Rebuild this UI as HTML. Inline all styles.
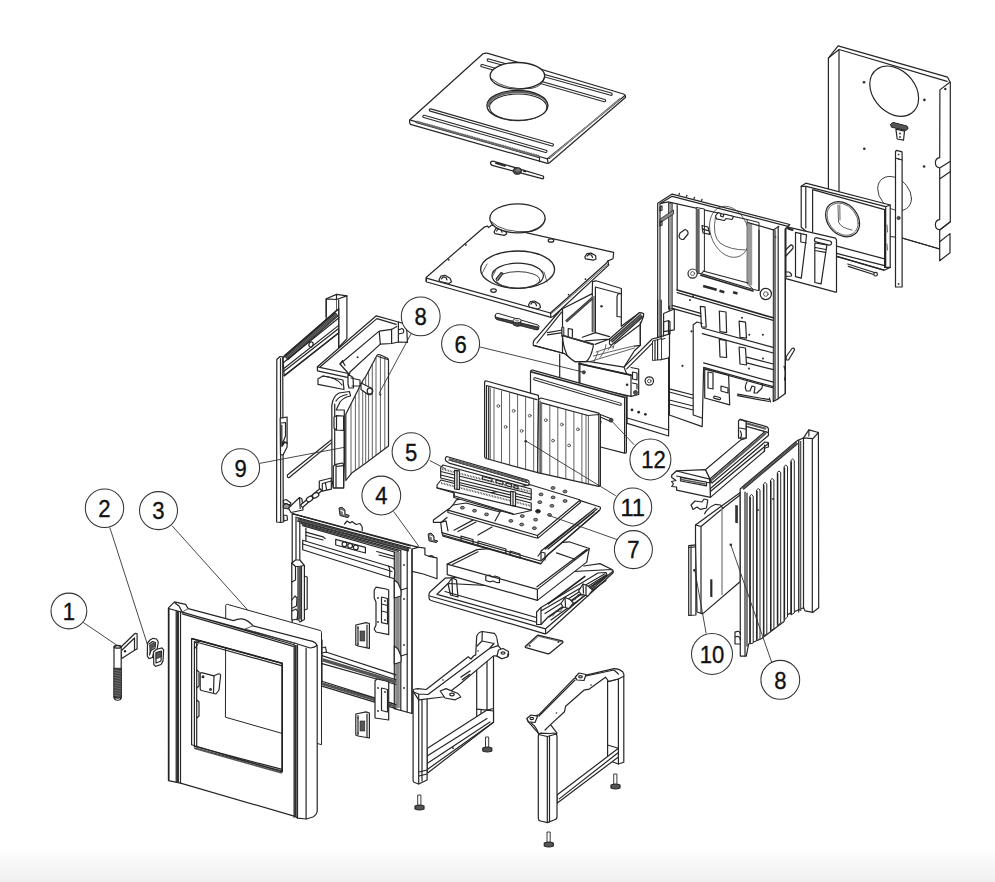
<!DOCTYPE html>
<html><head><meta charset="utf-8"><title>Stove exploded view</title>
<style>
html,body{margin:0;padding:0;background:#fff;}
body{width:995px;height:882px;overflow:hidden;font-family:"Liberation Sans",sans-serif;}
svg{display:block;}
.s{fill:none;stroke:#262626;stroke-width:1.2;stroke-linejoin:round;stroke-linecap:round;}
.f{fill:#fff;stroke:#262626;stroke-width:1.2;stroke-linejoin:round;stroke-linecap:round;}
.t{fill:none;stroke:#3a3a3a;stroke-width:0.8;stroke-linejoin:round;stroke-linecap:round;}
.k{fill:#2a2a2a;stroke:none;}
.g{fill:#8a8a8a;stroke:#262626;stroke-width:1;}
.d{fill:#555;stroke:#262626;stroke-width:0.8;}
.ld{fill:none;stroke:#333;stroke-width:0.9;}
.co{fill:#fff;stroke:#333;stroke-width:1.05;}
.n{font-family:"Liberation Sans",sans-serif;font-size:24.5px;fill:#111;stroke:#111;stroke-width:0.35;text-anchor:middle;}
</style></head>
<body>
<svg width="995" height="882" viewBox="0 0 995 882">
<defs>
<linearGradient id="bg" x1="0" y1="0" x2="0" y2="1">
<stop offset="0" stop-color="#ffffff"/><stop offset="1" stop-color="#f0f0f0"/>
</linearGradient>
</defs>
<rect x="0" y="0" width="995" height="882" fill="#fff"/>
<rect x="0" y="846" width="995" height="36" fill="url(#bg)"/>

<!-- BACKPANEL -->
<g id="backpanel">
<polygon class="f" points="828.4,58.1 838.1,45.9 947.6,77.2 950.3,82.5 950.3,221.8 939.7,229.9 939.7,249 902,238 839,230 828.4,228"/>
<path class="s" d="M839,49.5 L947.1,81.3 M828.4,58.1 L839,49.5 L839,232 M939.9,89.9 L949.8,82.2 M939.9,89.9 L939.7,157.7 A5,5.2 0 0 0 939.7,168 L939.7,219.6 A5,5.2 0 0 0 939.7,229.9 L950.3,221.8 M939.7,168 L950,161.4 M939.7,179 L950,171.7 M902,238 L939.7,249"/>
<polygon class="f" points="939.7,241.7 950,233.6 950,252.7 939.7,260.8"/>
<circle class="s" r="1" vector-effect="non-scaling-stroke" transform="matrix(24.4 7.1 0 24.1 894.2 91.2)"/>
<circle class="s" r="1" vector-effect="non-scaling-stroke" style="stroke-width:0.9" transform="matrix(16.9 4.9 0 16.4 894.6 193.6)"/>
<circle class="k" cx="864" cy="82.2" r="1.3"/><circle class="k" cx="924.4" cy="99.9" r="1.3"/><circle class="k" cx="945.3" cy="89" r="1.2"/>
<circle class="k" cx="864.3" cy="148.7" r="1.3"/><circle class="k" cx="924.1" cy="166.5" r="1.3"/>
<path class="g" d="M890.4,124.5 L893,122.4 L907,126 L908.2,128.5 L906,130.5 L891.5,127.2 Z" style="fill:#555"/>
<path class="f" d="M895.9,129.2 L904.5,131.2 L903.5,140.2 L897.2,139 Z"/>
<circle class="k" cx="900" cy="133.5" r="0.9"/><circle class="k" cx="900" cy="137" r="0.9"/>
<!-- strap -->
<path class="f" d="M895.5,151.5 L896.5,150.3 L902.1,151.8 L902.1,287 L895.5,287 Z"/>
<path class="s" d="M895.5,158 L902.1,160"/>
<circle class="k" cx="898.6" cy="154.6" r="0.9"/><circle class="k" cx="898.6" cy="158.9" r="0.9"/>
<circle class="d" cx="898.6" cy="218" r="1.6"/>
<circle class="k" cx="898.6" cy="284" r="0.9"/>
</g>
<!-- ADAPTER -->
<g id="adapter">
<polygon class="f" points="801.2,186.3 805.8,183.2 890.2,205 890.2,267.4 884,270.2 835.8,256.1 801.2,227.2"/>
<path class="s" d="M806.3,186.3 L885.7,206.7 L890.2,205 M812.6,189.7 L884.6,209.6 M801.2,186.3 L806.3,186.3 M805.8,186.3 L805.8,228 M812.6,189.7 L812.6,232 M884.6,209.6 L884.6,267.4 M885.7,206.7 L885.7,267 M835.8,245.9 L884.6,258.9 M835.8,253.2 L884.6,265.7 M835.8,256.1 L884,270.2 M884.6,267.4 L890.2,267.4"/>
<path class="t" d="M887,225 L887.5,232 M887,244 L887.5,250"/>
<circle class="s" r="1" vector-effect="non-scaling-stroke" transform="matrix(17 4.4 0 17 842.6 219.2)"/>
<circle class="t" r="1" vector-effect="non-scaling-stroke" transform="matrix(15.6 4.0 0 15.6 842.6 219.2)"/>
<path class="t" d="M838,205 L838.5,222 Q841,228 852,230 M839.8,205 L840,220"/>
<path class="s" d="M847.7,264 L876.1,273 M848.3,266.4 L876,275.3"/>
<circle class="f" cx="875.6" cy="274.2" r="1.8"/>
</g>
<g id="slotbracket">
<polygon class="f" points="785.9,226.6 835.5,238.1 836.5,240 836.5,292.1 835.5,292.1 785.9,278.6"/>
<path class="s" d="M795.5,232.3 L806.6,234.8 L801.3,278.1 L795.5,276.7 Z M800.8,233.4 L800.8,242 L806.4,243 M814.8,243 L826.9,244.9 L821.1,283.9 L814.8,282.5 Z M815.3,247.5 L825.8,249.5 M815,250.5 L825.5,252.3"/>
<rect class="s" x="815" y="237.3" width="17.5" height="4.2" rx="2.1" transform="rotate(14 815 237.3)"/>
<path class="s" d="M786,249.5 L791,244.8 Q793.8,245.5 792.8,248.5 L786,256" />
<path class="s" d="M786,272 L789,272 Q792,273.5 791.5,276 L786,276.5"/>
<path class="s" d="M788,228.5 L792.5,230" style="stroke-width:2"/>
</g>
<!-- REARFRAME -->
<g id="rearframe">
<polygon class="f" points="657.7,203.2 672.2,194.1 789.8,224.5 785.3,229 785.3,393.5 778.5,398.6 773.4,401.4 773.4,388 703.6,368.5 702.2,426.6 669.3,415 669.3,360 657.7,360"/>
<circle class="t" r="1" vector-effect="non-scaling-stroke" transform="matrix(20 5.8 0 24.9 729.5 231.8)"/>
<path class="t" d="M715.4,217.2 Q712,236 720,243 Q730,250 745.4,249.9"/>
<path class="s" d="M672.2,196.3 L788,226.3 M660,203.5 L660,360 M668.1,201.8 L747.2,219.5 M677.2,205 L677.2,290 M660,203.6 L672.2,196.3 M660,203.6 L668.1,201.8"/>
<rect x="668.6" y="203" width="3.6" height="106" style="fill:#9a9a9a;stroke:#262626;stroke-width:0.8"/>
<!-- window left frame -->
<path style="fill:#fff;stroke:#262626;stroke-width:1" d="M696.3,207.5 L704.4,209 L704.4,271 L700.8,273.6 L696.3,273 Z"/>
<rect x="696.3" y="209" width="3.4" height="64" style="fill:#666;stroke:none"/>
<!-- window right frame -->
<path style="fill:#fff;stroke:#262626;stroke-width:1" d="M747.2,219.5 L759,222.5 L759,290.6 L753.3,289.5 L747.2,283.5 Z"/>
<rect x="747.4" y="223.5" width="4.8" height="62" style="fill:#9a9a9a;stroke:none"/>
<path class="s" d="M748,222.7 L773.5,229.9 L778.9,226.3 M759,230 L759,290.6"/>
<path class="s" d="M703,271 L748,283 M700.8,273.6 L753.3,289.5" />
<path class="s" d="M700.8,275.2 L753,291" style="stroke-width:1.6"/>
<!-- right column -->
<path class="s" d="M773.4,229.9 L773.4,401.4 M778.2,227 L778.2,398.6 M785.3,229 L785.3,393.5"/>
<rect x="773.6" y="230" width="2.5" height="170" style="fill:#777;stroke:none"/>
<!-- bosses -->
<circle class="f" cx="692.6" cy="273.6" r="4.6"/><circle class="t" cx="692.6" cy="273.6" r="2"/>
<circle class="f" cx="765.8" cy="294" r="5.6"/><circle class="t" cx="765.8" cy="294" r="2.3"/>
<g transform="translate(703.5,284.8) rotate(15)"><rect x="0" y="0" width="14" height="2.6" class="k"/><rect x="17" y="0.4" width="5" height="2.6" class="k"/></g>
<rect x="733.4" y="291" width="4.6" height="2.6" class="k" transform="rotate(15 733.4 291)"/>
<!-- beams -->
<path class="s" d="M677.2,290 L773.1,317.8" style="stroke-width:1.7"/>
<path class="s" d="M677.2,292.6 L773.1,320.4"/>
<path class="s" d="M672.2,305.4 L700.8,313.4 M672.2,308.4 L700.8,316.4"/>
<path class="s" d="M700.3,306.3 L705,306.8 L706.2,327.1 L701.5,327 Z M719.3,311 L726,312 L726.6,332.6 L720,331.7 Z M739.1,321.2 L745.5,322.2 L746.5,338.2 L740,337.3 Z M719.3,339.4 L726,340.5 L726.6,357.5 L720,356.8 Z M739.1,347 L745.5,348 L746.5,365 L740,364 Z"/>
<path class="s" d="M702.3,328 L773.1,347.3 M702.3,333.7 L773.1,353 M746.7,357.2 L773.4,364 M746.7,362.9 L773.4,369.7 M703.6,362.9 L773.4,382.2 M703.6,367.4 L773.4,386.7"/>
<path class="f" d="M704.7,369.1 L728.6,375.4 L729.7,404.8 L704.7,398 Z"/>
<path class="s" d="M708,372 L713,373 L713,389 L708,388 Z M721,386 L728,388 L728,393 L721,391 Z"/>
<rect x="714" y="396" width="7" height="2.2" rx="1.1" class="s" transform="rotate(15 714 396)"/>
<path class="s" d="M747,382 Q744,387 746.5,391 L750,391 L752,386 L755,387 L754,393 L757,393 L762,388 L762.6,384"/>
<path class="s" d="M737.6,394.1 L769.4,399.7 M737.6,395.6 L769,401.5 M769.4,398 L770.5,402"/>
<path class="f" d="M786.2,356.5 L792,348.5 Q794.5,347.5 794.5,350 L788.5,360 L786.2,360 Z"/>
<path class="s" d="M784,366.3 Q786.8,373 784.5,380"/>
<path class="s" d="M669.3,306 L669.3,415 M693.2,324.7 L693.2,415 M693.2,324.7 L697,322 L702.2,323.5 M669.3,388.8 L693.2,395 M669.3,392 L693.2,398.5 M669.3,400 L693.2,406 M669.3,404 L693.2,410 M693.2,415 L702.2,418"/>
<path class="f" d="M663.6,313.5 L674.3,309 L674.3,329.8 L663.6,331.7 Z"/>
<circle class="k" cx="682.5" cy="365.8" r="1.1"/><circle class="k" cx="691.5" cy="331.3" r="1.1"/>
<!-- top-left bracket & bits -->
<path style="fill:#888;stroke:#262626;stroke-width:0.8" d="M660,219 L673.6,210 L673.6,214 L660,223 Z"/>
<path class="s" d="M660,207 L662,206 L662,210 L660,211 Z M660,222 L662,221 L662,225 L660,226 Z"/>
<path class="f" d="M680,233 L685,229.5 Q688.5,230.5 688,234 L683.5,239.5 Q679.5,239.8 679,236 Z"/>
<path class="s" d="M702,225.5 L708,227 L709.9,234.4 L703,233 Z M702,229 L709,230.8"/>
<path class="f" d="M715.4,216 L718,212.7 L721,213.5 L720.5,216 L723,217 L724,214 L733.6,216.5 L732,219.5 L726,218.5 L724.5,220.5 L716.5,218.8 Z"/>
<circle class="k" cx="693" cy="296.3" r="1"/><circle class="k" cx="690" cy="300" r="1"/>
<circle class="k" cx="742" cy="317.8" r="1"/><circle class="k" cx="749.3" cy="334.8" r="1"/><circle class="k" cx="762.9" cy="334.8" r="1"/>
<circle class="k" cx="763" cy="358.5" r="1"/><circle class="k" cx="749" cy="368.5" r="1"/>
<circle class="k" cx="703" cy="229" r="0.8"/><circle class="k" cx="775.5" cy="237" r="0.8"/>
<path class="s" d="M679,194.6 L679.5,193.4 M686.5,196.5 L687,195.3 M694,198.5 L694.5,197.3 M701.5,200.5 L702,199.3" />
</g>
<!-- BAFFLE -->
<g id="baffle">
<!-- right side plate -->
<path class="f" d="M627.1,375 L624,367.1 L652.1,339 L657.6,337.6 L664.8,335.4 L669.5,334 L669.5,356 L668.6,358 L668.6,436 L627.1,423.4 Z"/>
<path class="s" d="M626.7,368.9 L653.9,341.7 L664.8,338.5 M659.9,359.8 L668.6,358 M627.1,418 L668.6,430"/>
<path style="fill:#fff;stroke:#262626;stroke-width:0.9" d="M652.5,341 L661.5,338.6 L661.5,359.5 L652.5,360.5 Z"/>
<path class="s" d="M655,340.5 L655,360 M657.6,339.8 L657.6,359.8"/>
<path class="s" d="M657.6,300 L657.6,337.6 M661.2,300 L661.2,338.6"/>
<path class="s" d="M663.5,322 L663.5,336 M668.5,320.5 L668.5,334 M663.5,322 L668.5,320.5 L670,322 L670,334"/>
<circle class="f" cx="649.3" cy="381" r="4.2"/><circle class="t" cx="649.3" cy="381" r="1.8"/>
<circle class="k" cx="632" cy="409.9" r="1.4"/><circle class="k" cx="638.7" cy="412.2" r="1.4"/><circle class="k" cx="645.4" cy="414.3" r="1.4"/>
<!-- tray body silhouette -->
<path class="f" d="M533.4,345.3 Q532.3,341 536.2,338.1 L561,309.5 L592.3,293.6 L592.5,281.7 L596,280.8 L621.4,288.5 L621.3,326.3 L639.4,312.7 L643.5,313.5 L643.5,316.3 L642.1,320 L640.3,324.5 L640.3,345.3 L634.4,350.8 L624,367.1 L589.5,361.7 L575.2,361.7 L564.3,353.5 Z"/>
<!-- back box -->
<path class="s" d="M595.4,287 L621.4,294 M595.4,287 L595.4,332.6 M592.3,293.6 L592.3,331.7 M617,316.5 L617,297 Q617.5,293 620.5,293.5 M621.3,317 L617,316.5"/>
<rect x="592.6" y="296" width="2.4" height="36" style="fill:#888;stroke:none"/>
<circle class="k" cx="601.5" cy="306.3" r="1.2"/>
<path class="s" d="M582.4,337.2 L595.4,332.6 L609.5,336.7"/>
<!-- left rim -->
<path class="s" d="M537,343 L561.6,312.2 M533.4,345.3 L564.3,353.5 M562.5,309 L562.5,353.5"/>
<path class="s" d="M547.5,332.6 L562.5,330 M547.5,334.8 L562.5,332.6 M568.2,336 L568.2,328.5 L572.4,329.3 L572.4,336.5"/>
<path d="M566,321.5 L592.5,298" style="stroke:#333;stroke-width:2.6;fill:none"/>
<path d="M566,321.5 L592.5,298" style="stroke:#999;stroke-width:1;fill:none;stroke-dasharray:0.7 0.7"/>
<path style="fill:#999;stroke:#262626;stroke-width:0.8" d="M561.5,327.5 L563.8,327 L564,336 L561.7,336.5 Z"/>
<!-- right wall rail -->
<path class="f" d="M609.5,339 L639.4,312.7 L643.5,313.5 L643.5,316.3 L611.3,345.3 L609.5,344 Z"/>
<path d="M611,341.5 L641.5,315" style="stroke:#333;stroke-width:3.4;fill:none"/>
<path d="M611,341.5 L641.5,315" style="stroke:#999;stroke-width:1.4;fill:none;stroke-dasharray:0.7 0.7"/>
<path class="s" d="M615,343.5 L640.3,324.5 M640.3,322 L640.3,345.3 M634.4,346.2 L640.3,345.3"/>
<path class="t" d="M589.5,361.7 L634.4,348 M593.3,356 L621,349 L634,346 M596,352 L613,346.5 M608,350 L611.3,345.3 M613,348.5 L614.5,343.5 M600,357.5 Q606,350 606,344.5 M594,362 L598,352"/>
<!-- box floor to rail -->
<path class="s" d="M585,340.8 L609.5,339 M595,344.4 L609.5,339"/>
<!-- half disc -->
<path class="f" d="M562.5,335.4 L593.3,344.4 L593.3,346.2 Q591,358 586,361.7 L575.2,361.7 Q566.5,356.5 566.1,352.6 Q563,346 562.5,335.4 Z"/>
<path d="M562.8,335.5 L593.3,344.4" style="stroke:#333;stroke-width:1.8;fill:none"/>
<!-- front plate -->
<path class="f" d="M579,363.6 L631,375.2 L631,396.4 L579,384.8 Z"/>
<path class="s" d="M579,363.6 L631,375.2" style="stroke-width:1.8"/>
<circle class="d" cx="583.8" cy="372.3" r="1.6"/><circle class="k" cx="627.1" cy="384.8" r="1.3"/>
<path class="s" d="M631,367.5 L638.7,369 L638.7,394.5 L631,396.4 M632.5,372 L637,373 L637,380 L632.5,379 Z M632.5,383 L637,384 L637,389"/>
<circle class="d" cx="635.5" cy="392.5" r="2"/>
<path class="s" d="M559.7,354 L559.7,379 M579.9,362 L579.9,383"/>
</g>
<!-- TOPPLATE -->
<g id="topplate">
<path class="f" d="M409.6,122.8 L409.6,120 L483,53.8 Q485.5,52.6 488,53.3 L623.5,94 Q626,95 625.4,97.5 L549.5,162.8 Q548.3,163.6 546.5,163.2 L410.5,124.4 Z"/>
<path class="s" d="M410.5,120.2 L539.5,156.5 L547.5,158.8 L625,95.5"/>
<path class="s" d="M416,122.5 L539.5,157.6 M539.5,156.5 L539.5,161 M547.5,158.8 L548,163 M619.8,98.8 L549.5,158.4"/>
<path d="M417,121.8 L539.5,156.8" style="stroke:#777;stroke-width:1.6;fill:none"/>
<path d="M620.5,98.5 L549.5,158" style="stroke:#999;stroke-width:1.2;fill:none"/>
<g style="fill:none;stroke-linecap:round">
<path d="M488.4,60.1 L611,94.2 M482,65.7 L604.5,100.6 M430.5,110 L552.3,144.9 M424,116.4 L545.8,151.3" style="stroke:#2a2a2a;stroke-width:3.4"/>
<path d="M488.4,60.1 L611,94.2 M482,65.7 L604.5,100.6 M430.5,110 L552.3,144.9 M424,116.4 L545.8,151.3" style="stroke:#fff;stroke-width:1.2"/>
</g>
<path d="M416.5,121.5 L539,156" style="stroke:#666;stroke-width:2.2;fill:none;stroke-dasharray:1 0.8"/>
<!-- hole -->
<ellipse cx="517.4" cy="105.5" rx="30.5" ry="15" style="fill:#fff;stroke:#262626;stroke-width:1.3"/>
<path d="M487,105.5 A30.5,15 0 0 1 547.9,105.5 A28.6,13.2 0 0 0 489,107 Z" style="fill:#777;stroke:#333;stroke-width:0.6"/>
<ellipse cx="518.2" cy="107.2" rx="28.6" ry="13.2" style="fill:#fff;stroke:#262626;stroke-width:1.1"/>
<!-- cover disc -->
<ellipse cx="517.4" cy="75.8" rx="27.3" ry="13.3" style="fill:#fff;stroke:#262626;stroke-width:1.3"/>
<path d="M491,78.5 Q505,90.5 531,88.5 Q543,86.5 544.5,77" style="fill:none;stroke:#262626;stroke-width:0.8"/>
</g>
<g id="tool1">
<path class="f" d="M490.8,162 Q492,160.8 494,161.3 L543,176 Q544.3,177.3 543,178.9 L493,165.7 Q490,165 490.8,162 Z" style="stroke-width:1.3"/>
<path class="s" d="M496,163.2 L505,165.8" style="stroke-width:1.8"/>
<ellipse cx="517.3" cy="171" rx="4.2" ry="3.4" style="fill:#444;stroke:#222;stroke-width:0.8"/>
<ellipse cx="517.8" cy="170.2" rx="2.4" ry="1.8" style="fill:#777;stroke:none"/>
<path class="s" d="M523.5,171 L525.5,171.7" style="stroke-width:1.4"/>
</g>
<!-- MIDPLATE -->
<g id="midplate">
<path class="f" d="M426.1,281.5 L426.1,277.5 L484.1,227.2 L487.5,226.2 L488.5,227.5 L491.9,225 L613.7,252.4 L613,258.8 L608,260.9 L608.7,265.1 L553.2,316.5 L551,317.3 L426.8,282 Z"/>
<path class="s" d="M426.4,278.2 L550.4,313 L606.6,263 L608,260.9 M550.4,313 L551,317.3 M426.4,281.5 L426.4,278.2"/>
<path class="t" d="M550.4,314.6 L608.2,263.8"/>
<circle class="k" cx="465.9" cy="244.9" r="0.9"/><circle class="k" cx="448.7" cy="259.8" r="0.9"/>
<circle class="k" cx="585.5" cy="279.2" r="0.9"/><circle class="k" cx="568.6" cy="294.6" r="0.9"/>
<ellipse class="s" cx="493.5" cy="290.6" rx="2.8" ry="1.7"/><ellipse class="s" cx="551" cy="240.5" rx="2.8" ry="1.7"/>
<!-- lugs -->
<path class="f" d="M439,280 L441,276 L445,275.3 L450,278.2 L451.5,281.8 L449,283.5 L440,281.5 Z"/>
<path class="s" d="M441.5,278.8 L443,276.8 L446,277.5 L447,280"/>
<path class="f" d="M528.5,305 L530.5,301.5 L534.5,301 L539.5,304 L540.5,307.5 L538,309 L529.5,307 Z"/>
<path class="s" d="M531,304 L532.5,302.2 L535.5,303 L536.5,305.8"/>
<path class="f" d="M584.8,257 L587,253.5 L591,253.1 L595.5,255.5 L596.1,259 L593.5,260.2 L585.5,258.8 Z"/>
<path class="s" d="M587.2,256 L588.6,254.5 L591.5,255 L592.5,257.5"/>
<path class="f" d="M494,232 L496,228.2 L500,227.8 L505.5,230.5 L506.7,234 L504,235.4 L495,233.6 Z"/>
<path class="s" d="M496.5,231 L498,229 L501,229.6 L502,232.2"/>
<!-- hole -->
<ellipse cx="517.6" cy="269.6" rx="37" ry="18.6" style="fill:#fff;stroke:#262626;stroke-width:1.3"/>
<ellipse cx="517.7" cy="275.8" rx="25.7" ry="12.6" style="fill:#fff;stroke:#262626;stroke-width:1.2"/>
<ellipse cx="518" cy="279.8" rx="21.6" ry="8.2" style="fill:#fff;stroke:#262626;stroke-width:0.9"/>
<path class="t" d="M481.8,274 L487,264 M492.5,276.5 L496,270 M544,272 L547,282 M553.5,274 L546,282"/>
<path class="s" d="M496,279 L501,272.5 L503,273.5 L498,280.5" style="fill:#888"/>
<!-- cover -->
<ellipse cx="517.5" cy="218.3" rx="27.7" ry="14.5" style="fill:#fff;stroke:#262626;stroke-width:1.3"/>
<path d="M490.5,221 Q503,233.5 531,231.5 Q543.5,229 545,219" style="fill:none;stroke:#262626;stroke-width:0.8"/>
</g>
<g id="tool2">
<path d="M495.2,316.2 L538.8,327.2 L538.6,329.4 Q537.5,330.2 536,329.8 L496.5,319.5 Q494.8,318.5 495.2,316.2 Z" style="fill:#444;stroke:#222;stroke-width:0.9"/>
<path class="f" d="M495.2,316.2 Q494.8,313.2 497.8,313.3 L538,325 Q540,326 538.8,327.2 L497,317.5 Q495.4,317.2 495.2,316.2 Z" style="stroke-width:1"/>
<path d="M513.2,320.5 L513.4,325 Q517,327.6 521,325.6 L521,321" style="fill:#444;stroke:#222;stroke-width:0.8"/>
<ellipse cx="517.1" cy="320.6" rx="3.9" ry="2.2" style="fill:#fff;stroke:#222;stroke-width:0.9"/>
<ellipse cx="517.1" cy="320.6" rx="2.1" ry="1.1" style="fill:#999;stroke:none"/>
</g>
<!-- BACKBRICK -->
<g id="backplate12">
<path class="f" d="M530.5,371.5 Q530.6,370 532.5,370.2 L625,395.6 Q626.6,396.2 626.4,398 L626.4,452 Q626,453.5 624.5,453.2 L600.4,447 L530.5,430 Z"/>
<path class="s" d="M531.5,372 L624.8,397.5" style="stroke-width:1.8"/>
<path class="s" d="M624.6,398 L624.6,452.4"/>
<path d="M534.8,378.9 L620.2,404.2" style="stroke:#2a2a2a;stroke-width:3.2;stroke-linecap:round;fill:none"/>
<path d="M534.8,378.9 L620.2,404.2" style="stroke:#fff;stroke-width:1.2;stroke-linecap:round;fill:none"/>
<path class="s" d="M600.4,414.5 L611,418.8 M600.4,417 L610.5,421.5"/>
<ellipse cx="611.2" cy="420.2" rx="1.8" ry="2" class="d"/>
<path class="s" d="M600.4,420 Q601.6,422 600.4,424"/>
</g>
<g id="bricks">
<!-- left brick -->
<path class="f" d="M484.6,382 Q485,380.8 486.5,381 L538.5,395.4 L538.5,399.6 L537.7,472.7 L486,458.5 Q484.6,458 484.6,456.5 Z"/>
<path class="s" d="M486.5,385.5 L536.9,399.6 M486.5,385.5 L486.5,457.8 M488.7,387 L488.7,458.6"/>
<path class="t" d="M490.3,388 L490.3,459 M494,389 L494,460 M501.5,391 L501.5,462 M509.6,393 L509.6,464.5 M517.6,395 L517.6,466.5 M525.6,397.5 L525.6,469 M533.7,399.5 L533.7,471.5"/>
<!-- right brick -->
<path class="f" d="M538.5,399.6 L540.9,398 L598.8,413.2 L600.4,414.8 L600.4,485.5 L598.8,486.4 L537.7,472.7 Z"/>
<path class="s" d="M541.7,402.8 L588,415.5 L598.8,414.5 M598.8,414.5 L598.8,486.4 M540.1,401 L540.1,473 "/>
<path class="t" d="M541.7,402.8 L541.7,473.5 M549.8,405 L549.8,475.2 M557.8,407 L557.8,477 M565.8,409.5 L565.8,478.8 M573.9,411.5 L573.9,480.6 M581.9,413.5 L581.9,482.4 M586,414.8 L586,483.3 M588.4,415.4 L588.4,484"/>
<g class="t">
<circle cx="498.3" cy="406" r="1.4"/><circle cx="513.6" cy="410.8" r="1.4"/><circle cx="529.7" cy="415.7" r="1.4"/><circle cx="505.6" cy="426.9" r="1.4"/><circle cx="521.6" cy="430.9" r="1.4"/>
<circle cx="545.8" cy="420.2" r="1.4"/><circle cx="561.8" cy="424.5" r="1.4"/><circle cx="577.9" cy="429.3" r="1.4"/><circle cx="553" cy="440.6" r="1.4"/><circle cx="569.1" cy="445.4" r="1.4"/>
</g>
<circle class="k" cx="525.7" cy="441.2" r="1.3"/>
</g>
<!-- SIDEPANEL -->
<g id="sidepanel">
<!-- rear post -->
<path class="f" d="M326.2,298.8 L336.5,294.4 L346.9,295.9 L346.9,338.7 L338.7,347.5 L338.7,330 L326.2,340 Z"/>
<path class="s" d="M326.2,298.8 L336.5,299.5 L336.5,294.4 M336.5,299.5 L346.9,295.9 M338.7,300 L338.7,347.5 M326.2,298.8 L326.2,316.5"/>
<path class="t" d="M336.5,299.5 L336.5,316"/>
<!-- top rib -->
<path class="f" d="M283,358 L336,311 L338.7,309.2 L338.7,333 L284.2,376 Z"/>
<path d="M286,358.5 L337,314" style="stroke:#333;stroke-width:5.5;fill:none"/>
<path d="M286,358.5 L337,314" style="stroke:#777;stroke-width:3.2;fill:none;stroke-dasharray:0.8 0.8"/>
<path class="s" d="M284.2,355.8 L338.7,308.7 M284.2,362 L338.7,318 M284.2,368.2 L338.7,325.4 M284.2,375.5 L338.7,332.8 M284.2,371 L338.7,328.5"/>
<ellipse class="s" cx="311" cy="344.5" rx="2" ry="2.6" transform="rotate(20 311 344.5)"/>
<!-- front post -->
<path class="f" d="M276.8,359.5 L280,356.5 L282.7,356.8 L283.3,522 L280.7,522.4 L276.6,522 Z"/>
<path class="s" d="M280.5,358.5 L280.7,522.2"/>
<path class="t" d="M282.7,357 L284.5,356"/>
<!-- bracket on front post -->
<path class="f" d="M280.2,418.2 L284,417.7 L287.1,417 L287.1,447 L283,455 L280.5,454.6 Z"/>
<path class="s" d="M281.5,423 L285.5,422.5 L285.5,436 L281.8,445 M281.8,425 L281.8,445"/>
<path class="s" d="M282,446 L284.5,442 L287,443" style="stroke-width:1.8"/>
<!-- rod -->
<path class="f" d="M287.4,475 L332.8,438.8 Q334.8,439 334.2,440.6 L289.2,477.5 Q287,478 287.4,475 Z"/>
<!-- bottom bits -->
<path class="f" d="M283.3,500.5 L286,499.5 L291,503 L290,505 L283.3,503 Z"/>
<path class="f" d="M283.3,505 L286.5,503.5 L292,507 L291,509.5 L283.3,508 Z" style="fill:#999"/>
<path class="f" d="M288.5,508 L299.5,497.5 L302,499 L303,510 L291,512.5 Z"/>
<path class="s" d="M299.5,497.5 L300.2,508.5"/>
<path class="f" d="M300.5,505 L320,488.5 L322,490.5 L302.5,507.5 Z"/>
<ellipse class="s" cx="309.6" cy="499" rx="3.4" ry="2.3" transform="rotate(-30 309.6 499)" style="fill:#fff"/>
<ellipse class="s" cx="315.6" cy="495.3" rx="3.4" ry="2.3" transform="rotate(-30 315.6 495.3)" style="fill:#fff"/>
<path class="f" d="M319.3,481 L331.3,478 L331.3,489.1 L322.3,491.1 L319.3,488 Z"/>
<path class="s" d="M322.3,483.5 L322.3,491.1 M322.3,483.5 L331.3,481 M325.5,483 L326.5,489.5"/>
<path class="f" d="M283.5,515 L287,515.5 L287.5,520 L284,521 Z"/>
</g>
<!-- SIDELINER -->
<g id="sideliner">
<!-- support strap / column -->
<path class="f" d="M331.8,405.4 Q333,396 339,393 L349.5,391.5 L350.5,396 Q344,397 340,402 L336.2,410 L344.3,410 L344.3,464.3 L343.6,487.9 L333.3,487.9 L332,480 Z"/>
<path class="s" d="M334.7,404 L334.7,487 M344.3,430.4 L344.3,464.3 M336,401 Q339,396 347,394.5"/>
<path class="f" d="M334,417 L336.5,415.7 L343.6,416 L343.6,430.4 L336,430 L334,428 Z"/>
<path class="s" d="M336.5,415.7 L336.5,430"/>
<path class="f" d="M333.3,466 L336,464.3 L342,463 L343.6,464.3 L343.6,487.9 L333.3,487.9 Z"/>
<path class="s" d="M336,464.3 L336,487.9 M336,466.5 L343.6,465.6"/>
<!-- ribbed panel -->
<path class="f" d="M345.8,414.2 L358,390 Q362,381 366,376 L376.9,355.5 Q378,354 380,354.8 L387.7,358.3 L388.5,360 L388.5,445.9 L364.2,464.3 L351.7,473.1 L345.8,480.5 Z"/>
<path class="t" d="M351,404 L351,474 M355.4,396 L355.4,470 M359,388 L359,467 M362.7,381 L362.7,464.5 M365.7,376 L365.7,462 M368.6,370.5 L368.6,460 M372.3,364 L372.3,457 M376,358 L376,454.5 M380.4,356.5 L380.4,451.5 M384.8,357.5 L384.8,448.5"/>
<path class="s" d="M378,356.5 L387.7,359.5"/>
<!-- top tray -->
<path class="f" d="M317.4,366.8 L376.3,315.8 L398.4,322 L406.4,324.3 L407.5,342.4 L398.4,342 L391.6,343.5 L380.3,344.1 L350,372 L348.5,377.6 L317.4,370.8 Z"/>
<path class="s" d="M320.2,366.8 L376.9,318.6 L396.2,324.3 M340,364 L379.2,331.1 L391.6,329.4 L396.7,326.5 M379.2,331.1 L380.3,344.1 M391.6,329.4 L391.6,343.5 M317.4,366.8 L348.5,373.5 L348.5,377.6 M340,364 L348.5,373.5"/>
<path class="s" d="M340,364 L342.5,360.5 M343,362 L345,365.5" />
<path class="s" d="M398.4,322 L398.4,342 M398.4,330 L402,328.5 Q405,330 403,333 L398.4,334"/>
<circle class="k" cx="357.6" cy="357.2" r="1"/>
<!-- under lip -->
<path class="f" d="M318,378.7 L323,376 L343,380 L344,389.5 L318,384.4 Z"/>
<path class="s" d="M323,376 Q336,377 342,385"/>
<!-- pegs -->
<path class="f" d="M348,374 L353,377.5 L353.5,388 L349,388 L348,384 Z"/>
<path class="s" d="M351,378 L360,380 L360,386 L352,386"/>
<path class="f" d="M361,383 L368,386.5 Q373,388 372.8,391.5 Q372,395.5 368,394.5 L361,389.5 Z"/>
<ellipse class="s" cx="369.8" cy="391" rx="2.6" ry="3.2"/>
<circle class="k" cx="380.3" cy="394.6" r="1.1"/>
</g>
<!-- ASHPAN -->
<g id="ashbase">
<path class="f" d="M429,595 Q428.8,592.5 431,591 L445.1,578.2 L612,569.5 Q614,571 612.9,573 L546.5,633.5 L545,633.8 L431,600.5 Q429,599.5 429,598 Z"/>
<path class="s" d="M429.8,596 L545.6,628.8 L612.6,571.5 M545.6,628.8 L545.6,633.5"/>
<path class="s" d="M437,594.3 L448,583.5 L540,588 M437,594.3 L541,623.5 M445,591.5 L538,618"/>
<path class="s" d="M448,583.5 L452,578 L456.5,580 L458,597 L450.5,595 Z M452,579 L452.5,595.5"/>
<!-- right rail -->
<path class="f" d="M536.6,612 L541,607.5 L598,573 L606,572.5 L607,575 L548,617 L541,624.5 L536.6,624.5 Z"/>
<path class="s" d="M541,607.5 L541,624.5 M541,611 L604.5,574 M545,613.5 L606,575"/>
<path d="M547.7,604.1 L585.3,576.1" style="stroke:#222;stroke-width:1.8;fill:none"/>
<path class="s" d="M549,617 L605,577.5 L607,575 M551,620 L606,580.5"/>
<path class="t" d="M553,616 L556,610.5 L560,612 L564,606 L568,607.5 L572,601.5 M575,600 L578,594.5 L582,596 L586,590 L590,591.5 L594,585.5 M597,584 L600,579"/>
<path class="f" d="M578.6,591 L583,584 L588,586 L592.6,590 L588,596 L581,594 Z"/>
<path class="s" d="M583,584 L583.5,593 M586,586 L586,595"/>
<path class="f" d="M561,603.5 L565,597.5 L570,599.5 L573.5,603 L569,608.5 L563,607 Z"/>
<path class="s" d="M565,597.5 L565.5,606.5"/>
<path class="s" d="M583.8,566 L600,563.6 L612,569.5"/>
</g>
<g id="ashpan">
<path class="f" d="M447.2,564.1 L477,549.6 L569,541.8 L589.3,548.5 L586.7,562.1 L537.4,600.4 L447.2,574.6 Z"/>
<path class="s" d="M447.2,564.1 L537.4,589.4 L589.3,548.8 M537.4,589.4 L537.4,600.4 M452.5,564.5 L478,551.8 M537,586.8 L586.5,549.5 M556.5,552.9 L575,559.2"/>
<path class="s" d="M485.8,576 L489.5,575 L492,577 L495,576 L499.5,577.5 L499.5,582.6 L496,582.3 L493,581 L489.5,581.8 L485.8,580.5 Z"/>
</g>
<!-- GRATE -->
<g id="grateframe">
<path class="f" d="M433.4,519.9 L448.5,509 L579.6,500.4 L600.1,507 Q601.2,509 598.9,510.7 L548.3,554.1 L540.8,563.9 L443.1,536.2 L441.9,532.6 L440.7,522.3 L433.4,522.3 Z"/>
<path class="s" d="M441.9,532.6 L540.8,561 L598.9,510.7 M443.1,535 L540.8,563.5 M440.7,522.3 L446,520.8 L448,531"/>
<path class="s" d="M454,530.2 L473.3,519.9 M458,531.5 L476,522 M478,535 L492,527 M541,560 L541,551 L595.5,508 M545.3,549 L592,510.8 M548,549 L594,512 M551,546.5 L597,509 M441,522.5 L447,517.5"/>
<path class="s" d="M461,536.2 L473,539.5 L473,544 L461,541 Z M478,541 L506,549 L506,553.5 L478,545.5 Z M510,551 L520,554 L520,558 L510,555 Z"/>
<path class="s" d="M538,556 L541,552 L545,553 L545,560"/>
</g>
<g id="grate7">
<path class="f" d="M447.9,510.1 L453,505 L456.4,499.9 L530.2,484.7 L579.6,499.8 L580.5,502.5 L538.6,537.6 L536.5,538 L447.9,512.5 Z"/>
<path class="s" d="M447.9,510.1 L537.5,535.5 L579.6,500.5 M453,505 L466,503 L500,512 L509,505 L520,508 M500,512 L495,521"/>
<path class="s" d="M537.5,535.5 L537.8,538"/>
<g style="fill:#888;stroke:#222;stroke-width:0.8">
<ellipse cx="541" cy="494.4" rx="2" ry="1.4"/><ellipse cx="553.1" cy="497.4" rx="2" ry="1.4"/><ellipse cx="565.1" cy="501" rx="2" ry="1.4"/>
<ellipse cx="539.8" cy="502.2" rx="2" ry="1.4"/><ellipse cx="551.9" cy="505.8" rx="2" ry="1.4"/>
<ellipse cx="538" cy="511.3" rx="2.4" ry="1.8" style="fill:#222"/><ellipse cx="549.5" cy="514.9" rx="2" ry="1.4"/>
<ellipse cx="535.6" cy="519.7" rx="2" ry="1.4"/><ellipse cx="522.3" cy="516.1" rx="2" ry="1.4"/>
<ellipse cx="510.9" cy="520.9" rx="2" ry="1.4"/><ellipse cx="521.7" cy="524.5" rx="2" ry="1.4"/><ellipse cx="534.4" cy="528.2" rx="2" ry="1.4"/>
<ellipse cx="462.4" cy="507.7" rx="2" ry="1.4"/><ellipse cx="474.5" cy="510.7" rx="2" ry="1.4"/><ellipse cx="486.5" cy="514.4" rx="2" ry="1.4"/>
<ellipse cx="553" cy="488" rx="2" ry="1.4"/><ellipse cx="565" cy="491.5" rx="2" ry="1.4"/>
</g>
</g>
<g id="grate5">
<!-- lower bar -->
<path class="f" d="M437,485 L441,480 L531.2,503 L531.2,510.5 L513.5,514.5 L454,497.5 L454,493 L437,488 Z"/>
<path class="s" d="M437,487.8 L531.2,510.1 M454,495.7 L513.1,513.8 M454,493 L454,497.5"/>
<path d="M441,483 L531,506" style="stroke:#555;stroke-width:2;fill:none;stroke-dasharray:0.8 0.8"/>
<!-- middle rail -->
<path class="f" d="M440.7,467.3 L443,465 L531.2,489 L531.2,500 L440.7,478 Z"/>
<path class="s" d="M440.7,471.5 L531.2,494 M440.7,475 L531.2,497.5"/>
<path d="M442,469 L530,491.5" style="stroke:#555;stroke-width:2;fill:none;stroke-dasharray:0.8 0.8"/>
<!-- posts -->
<path class="f" d="M454.6,470.3 L459.4,470.8 L459.4,489.6 L454.6,489 Z"/>
<path class="s" d="M457,470.5 L457,489.3"/>
<path class="f" d="M510.6,491.4 L515.5,492 L515.5,505.9 L510.6,505.3 Z"/>
<path class="s" d="M513,491.7 L513,505.6"/>
<!-- top bar -->
<path class="f" d="M446.7,456.5 Q444.5,458 446,461 L449.1,463.1 L527.5,485.4 Q530,484 528.7,481 L527.5,480 Z"/>
<path class="s" d="M449,460 L527.5,482.5"/>
<path d="M449,459.2 L527,481.5" style="stroke:#444;stroke-width:2.4;fill:none"/>
<path d="M449,459.2 L527,481.5" style="stroke:#aaa;stroke-width:0.9;fill:none;stroke-dasharray:0.7 0.7"/>
<path class="f" d="M482.5,476.5 L492,479 L492,481.5 L482.5,479 Z M496,480 L503,482 L503,484.5 L496,482.5 Z M506,483 L511.5,484.5 L511.5,487 L506,485.5 Z M514,485.3 L518,486.4 L518,488.8 L514,487.7 Z"/>
</g>
<!-- RIGHTSIDE -->
<g id="topbracket">
<!-- back post -->
<path class="f" d="M738.5,421 L740,419.4 L746.3,421.5 L746.3,438.2 L738.5,438.2 Z"/>
<path class="s" d="M739.5,428 L745.5,429 M740.2,431 Q742.5,434.5 740.5,438"/>
<!-- top rail -->
<path class="f" d="M740,419.4 L767,426.8 L768.4,428.5 L768.4,432.7 L765,431.6 L746.3,426.5 L746.3,421.5 Z"/>
<path d="M747,423.5 L766,428.8" style="stroke:#444;stroke-width:2;fill:none"/>
<path d="M747,423.5 L766,428.8" style="stroke:#999;stroke-width:0.8;fill:none;stroke-dasharray:0.7 0.7"/>
<!-- arm top face -->
<path class="f" d="M746.3,426.5 L765,431.6 L709.8,479.1 L705.4,469.7 L740.8,439.9 L746.3,438.2 Z"/>
<path class="f" d="M765,431.6 L768.4,432.7 L768.4,435.5 L712,483 L709.8,479.1 Z"/>
<path d="M766,433 L711,480.5" style="stroke:#444;stroke-width:2;fill:none"/>
<path d="M766,433 L711,480.5" style="stroke:#aaa;stroke-width:0.8;fill:none;stroke-dasharray:0.7 0.7"/>
<!-- diag rail 2 -->
<path class="f" d="M710.4,488.5 L765,442 L768.4,442.6 L768.4,447 L764.5,448.2 L764.5,451 L710.4,497.4 Z"/>
<path class="s" d="M710.4,491.5 L768.4,443.5 M764.5,445 L764.5,451"/>
<!-- left comb piece -->
<path class="f" d="M676.6,470.8 L705.4,469.7 L709.8,479.1 L710.4,497.4 L676.6,490.2 L676.6,487 L671.7,486.5 L673.5,484 L671.5,481.5 L676,480.5 L671.7,477.5 L671.7,475.3 Z"/>
<path class="s" d="M676.6,471 L709.8,479.1 M709.8,479.1 L710.4,483 L676.6,476 M680.5,477.5 L706.5,482.2 L706.5,485.8 L680.5,481 Z"/>
<path class="s" d="M681,479.5 L705,484" style="stroke:#555;stroke-width:1.4"/>
<!-- hook -->
<path class="f" d="M691,505 L695,501 L702,502 L704,499 L707.8,500 L706.5,508 L700.5,509.4 L697,507 L693,509.4 Z"/>
</g>
<g id="liner10">
<path class="f" d="M688.7,545.6 L695.9,544.8 L695.9,615 L688.7,615.4 Z"/>
<path class="s" d="M691,545.5 L691,615 M688.7,547.5 L695.9,546.8"/>
<path class="f" d="M695.5,524.9 L740.3,492.4 L740.3,581.5 L702.6,613.9 L697,612 L695.5,540.8 Z"/>
<path class="s" d="M701,526.5 L722.9,508.3 L740.3,494.8 M701,526.5 L701,613 M695.5,524.9 L701,526.5"/>
<path style="stroke:#888;stroke-width:1.4;fill:none" d="M722,508.5 L722,595"/>
<path class="s" d="M704.6,513.8 Q708,507 715.7,504.3 L720.5,505 L722.9,508.3"/>
<path class="k" d="M710.2,579.2 L712.4,579.6 L712.4,597.3 L710.2,596.8 Z"/>
<path class="k" d="M735.2,505.1 L737.9,505.5 L737.9,523.3 L735.2,522.8 Z" style="fill:#333"/>
<circle class="k" cx="694.3" cy="570.2" r="1.2"/><circle class="k" cx="730.8" cy="544.8" r="1.3"/>
</g>
<g id="panel8">
<path class="f" d="M740.2,489 L797.3,440.6 L798.7,440 L803.5,437.9 L808.9,429.8 L818.4,432.5 L818.7,607.8 L812.7,612.4 L805.1,610.9 L803.6,607.8 L785.5,615.4 L784,621.4 L761.4,638.7 L748.6,644 L746.3,656.1 L740.3,656.1 Z"/>
<path d="M742.5,488.5 L797,442.5" style="stroke:#333;stroke-width:3.6;fill:none"/>
<path d="M742.5,488.5 L797,442.5" style="stroke:#888;stroke-width:1.6;fill:none;stroke-dasharray:0.8 0.8"/>
<path class="s" d="M745,492 L745,656 M747,493 L747,646 M798.7,440 L798.7,612 M803.5,437.9 L803.5,608 M812.3,438.6 L812.3,612 M803.5,437.9 L813,438.6 L818.4,432.5 M808.9,429.8 L808.9,436"/>
<path style="stroke:#555;stroke-width:1.6;fill:none" d="M800.5,441 L800.5,611"/>
<g style="fill:#fff;stroke:#262626;stroke-width:1">
<path d="M749.8,496 Q751.5,493 753.2,496 L753.2,643 L749.8,644 Z"/>
<path d="M756.6,490 Q758.3,487 760,490 L760,639 L756.6,640.5 Z"/>
<path d="M763.4,484 Q765.1,481 766.8,484 L766.8,634 L763.4,636 Z"/>
<path d="M770.5,480 Q772.2,477 773.9,480 L773.9,628.5 L770.5,631 Z"/>
<path d="M777.3,472.5 Q779,469.5 780.7,472.5 L780.7,623 L777.3,625.5 Z"/>
<path d="M784.1,466.5 Q785.8,463.5 787.5,466.5 L787.5,617 L784.1,620 Z"/>
<path d="M790.9,460.5 Q792.6,457.5 794.3,460.5 L794.3,613 L790.9,615 Z"/>
</g>
<g style="stroke:#222;stroke-width:1.3;fill:none">
<path d="M750.2,497 L750.2,643 M757,491 L757,639.5 M763.8,485 L763.8,635 M770.9,481 L770.9,630 M777.7,473.5 L777.7,624 M784.5,467.5 L784.5,618.5 M791.3,461.5 L791.3,614"/>
</g>
<path class="s" d="M735,632 Q740,630 740.3,634 M735,637 Q740,635 740.3,640 M735,632 L735,644 L740.3,644"/>
<circle class="k" cx="773" cy="499" r="0.9"/><circle class="k" cx="758" cy="510" r="0.9"/>
</g>
<!-- FRONTFRAME -->
<g id="frontframe">
<!-- right flange -->
<path class="f" d="M410,546 L424.9,548.2 L424.9,554.7 L428.9,556.3 L437,557.9 L437,578.8 L423.3,574 L410,570.8 Z"/>
<path class="s" d="M428.9,556.3 Q432,554.5 434,557.5"/>
<!-- frame body outline -->
<path class="f" d="M292.2,513.7 L418.5,547.4 L412,549 L412,713.5 L394.3,708.6 L394.3,704 L322,683 L322,640 L305.9,636 L292.2,636 Z"/>
<!-- top beam hatch -->
<path class="s" d="M292.2,513.7 L410.4,545.8 M297,517.7 L410.4,548.2 M301,523.3 L400.8,550.6 M302.7,525.7 L397.6,553"/>
<path d="M297.5,520 L409,550" style="stroke:#333;stroke-width:3.4;fill:none"/>
<path d="M298,519.8 L409,549.8" style="stroke:#999;stroke-width:1;fill:none;stroke-dasharray:0.7 0.7"/>
<path d="M302,524.5 L399,551.5" style="stroke:#444;stroke-width:1.6;fill:none"/>
<!-- columns -->
<path class="s" d="M296,517 L296,560 M299.8,522 L299.8,560 M305.9,528 L305.9,545"/>
<path class="s" d="M394.3,552 L394.3,708.6 M400.8,551 L400.8,710.5 M407.2,549 L407.2,712 M412,549 L412,713.5"/>
<rect x="395.2" y="552" width="4.6" height="156" style="fill:#8a8a8a;stroke:none"/>
<path class="f" d="M394.3,580 L398,583 L401,590 L401,596 L394.3,598 Z M394.3,646 L398,649 L401,656 L401,662 L394.3,664 Z"/>
<path class="s" d="M401,590 L407.2,588 M401,656 L407.2,654"/>
<circle class="k" cx="404" cy="565" r="0.9"/><circle class="k" cx="404" cy="599" r="0.9"/><circle class="k" cx="404" cy="645" r="0.9"/><circle class="k" cx="404" cy="688" r="0.9"/>
<!-- left column details -->
<path class="f" d="M291.8,563 L295.5,560 L299.8,560 L304.4,565.5 L304.4,619.4 L300,622 L298,619 L291.8,620 Z"/>
<path class="s" d="M291.8,563 L295.5,566.5 L298,566.5 L304.4,565.5 M298,566.5 L298,619 M301.5,566 L301.5,620.5 M295.5,566.5 L295.5,580 L291.8,582"/>
<path style="fill:#555;stroke:none" d="M298.4,567 L301.2,567 L301.2,619.5 L298.4,619.5 Z"/>
<path class="s" d="M304.4,576 L307.2,577 L307.2,609 L304.4,610"/>
<path class="s" d="M291.8,600 L295,596 L297,598 L296.5,606 L292.5,608 M292,611 L296,609 L298,612 L297,620"/>
<!-- inner baffle bar -->
<path class="f" d="M302.7,540.2 L391.5,567 Q395,568.5 394.8,572 L394.3,578.8 L302.7,549.8 Z"/>
<path class="s" d="M302.7,544 L392,571.5 M388.5,566 Q390.5,569 389.5,577"/>
<!-- slots -->
<path class="f" d="M335.7,539.4 L365.4,547.4 L365.4,553 L335.7,545 Z"/>
<circle class="s" cx="344.5" cy="544.2" r="2.4"/><circle class="s" cx="350.1" cy="545.8" r="2.4"/><circle class="s" cx="355.8" cy="547.4" r="2.4"/>
<path class="s" d="M305.9,532.2 L323,536.8 L325.2,538.6 M305.9,535.5 L323,540 M376.7,551.5 L394.3,556.3 M379,555 L394.3,559"/>
<path class="s" d="M344.5,524 L347,521 L350,523 L352,521.5 L356,524.5 L360,523.5 L362.2,527 L362.2,530.6"/>
<!-- lower beams -->
<path class="s" d="M322,650.8 L396,674.9 M322,655.6 L396,679.7 M322,663.6 L396,684.5 M322,681.3 L396,704.6 M322,686.1 L396,708.6"/>
<path d="M322,659.6 L396,682.1" style="stroke:#555;stroke-width:3.5;fill:none"/>
<path d="M322,683.7 L396,706.6" style="stroke:#555;stroke-width:2.5;fill:none"/>
<path class="f" d="M322,648 L325.5,647 L326.5,652 L322,653 Z"/>
<!-- hinge plates -->
<path class="f" d="M374.2,590 L376,587.2 L386,589 L388.7,590 L388.7,634.7 L376,632 L374.2,629 L376,625 L376,602 L374.2,598 Z"/>
<path class="s" d="M381.5,597 L387.5,598.5 L387.5,624 L381.5,622.6 Z M381.5,604 L387.5,605.5 M381.5,611 L387.5,612.5"/>
<circle class="k" cx="378" cy="598" r="0.9"/><circle class="k" cx="378" cy="622" r="0.9"/><circle class="k" cx="385" cy="601" r="0.9"/><circle class="k" cx="385" cy="620" r="0.9"/>
<path class="f" d="M355.8,625 L366,622.6 L369.4,623.5 L369.4,648.3 L358,646 L355.8,645 Z"/>
<path class="s" d="M358,626.5 L358,645 M367,625 L367,647.5"/>
<rect x="360" y="631" width="4.8" height="10" style="fill:#555;stroke:#222;stroke-width:0.6"/>
<circle class="k" cx="358" cy="628" r="0.8"/><circle class="k" cx="358" cy="644" r="0.8"/>
<path class="f" d="M375,681 L377,678.9 L386,681 L388.7,682 L388.7,720 L375,718 Z"/>
<path class="s" d="M381.5,688 L387.5,689.5 L387.5,712 L381.5,710.5 Z"/>
<circle class="k" cx="378" cy="688" r="0.9"/><circle class="k" cx="378" cy="711" r="0.9"/><circle class="k" cx="385" cy="692" r="0.9"/>
<path class="f" d="M355.8,714 L366,711.9 L369.4,713 L369.4,738 L358,736 L355.8,735 Z"/>
<path class="s" d="M358,715.5 L358,735 M367,714 L367,737.5"/>
<rect x="360" y="721" width="4.8" height="10" style="fill:#555;stroke:#222;stroke-width:0.6"/>
<circle class="k" cx="358" cy="718" r="0.8"/><circle class="k" cx="358" cy="733" r="0.8"/>
<!-- small brackets -->
<path d="M339,508 L342,507.2 L345,510 L345,514 L349.3,515.5 L348,517.7 L340,515.5 Z" style="fill:#777;stroke:#262626;stroke-width:1"/><path class="s" d="M341,510.5 L343.5,511.5 L343.5,514" style="stroke:#fff"/>
<path d="M428.1,534 L431,533 L434,536 L434,540 L437.8,541 L436.5,542.6 L429,540.8 Z" style="fill:#777;stroke:#262626;stroke-width:1"/><path class="s" d="M430,536 L432.5,537 L432.5,539.5" style="stroke:#fff"/>
</g>
<g id="sqplate">
<path class="f" d="M525.3,646.5 L537.9,635.1 L562.2,640.9 Q563.5,641.8 562.6,642.8 L549.5,653.4 Q548.5,654 547.2,653.6 L526,647.6 Q525,647.2 525.3,646.5 Z" style="stroke-width:1.3"/>
<path class="t" d="M526.8,646.6 L538.5,636.3 L561.5,641.8"/>
<circle class="k" cx="529.8" cy="645.9" r="0.9"/><circle class="k" cx="558.4" cy="642" r="0.9"/>
</g>
<!-- STANDS -->
<g id="standL">
<!-- rear leg -->
<path class="f" d="M476.7,654 L487,655 L493.5,653 L493.5,722.2 L476.7,722.2 Z"/>
<path class="s" d="M487,655 L487,718.5 M476.7,709.1 L487,710.1 L493.5,708.5 M481,710 L481,722 M476.7,718.5 L493.5,718"/>
<!-- bottom rail -->
<path class="f" d="M427.1,748.4 L487,710.1 L493.5,711 L493.5,722.2 L428,772.7 L427.1,772 Z"/>
<path class="s" d="M427.1,755.9 L487,718.5 M427.1,763.4 L490,722 M428,769 L493.5,722.2"/>
<circle class="k" cx="453" cy="748" r="0.9"/>
<!-- front leg -->
<path class="f" d="M413.1,691.4 L418.7,694 L427.1,696 L427.1,780 L418.7,784 L414.5,782.5 Q413.1,782 413.1,780.5 Z"/>
<path class="s" d="M418.7,694 L418.7,784 M422,697 L422,781"/>
<path class="s" d="M419,772 L427,770 M419,776 L427,774"/>
<!-- top rail -->
<path class="f" d="M413.1,691.4 Q413,689.2 415,689 L417.8,688.6 L426.2,689.5 L468.2,656.8 L471,659 L473.5,656 L475.7,654.9 L476.7,636.2 Q478.5,632 482.3,631.5 L494.4,633.4 Q497,636 497.2,640 L498.2,645.6 L501.9,650.2 L508.5,653 Q509,655.5 507.5,656.8 L501.9,658.7 L496.3,655.9 L493.5,655.9 L460,684 L443,697 L418.7,699.8 Z"/>
<path class="s" d="M413.5,692 L418.7,694 L428,694.5 L489.5,648.5 L498.2,645.6 M418.7,694 L418.7,699.8 M477,646 L482,641 L494,643.5 M482,641 L482.3,631.5 M489.5,648.5 L494,643.5"/>
<path class="f" d="M440.2,691 L446,688.6 L458,693.5 L460.8,697 L455,699.8 L445,698 Z"/>
<ellipse class="s" cx="452" cy="694.5" rx="2.2" ry="1.3"/>
<path class="f" d="M498.5,650 L503,648.5 L508.5,651.5 L507.5,656.8 L501.9,658.7 L497,656 Z"/>
<ellipse class="s" cx="503" cy="653" rx="2" ry="1.2"/>
<path class="s" d="M461,677 L470,671 M462.5,679.5 L469.5,674.5" style="stroke-width:1.5"/>
<circle class="k" cx="478" cy="651" r="0.8"/><circle class="k" cx="443" cy="680" r="0.8"/>
</g>
<g id="screws">
<g transform="translate(487.3,737)"><rect x="-1.4" y="0" width="2.8" height="10.5" class="f" style="stroke-width:0.9"/><path class="f" d="M-4.5,11 Q0,9 4.5,11 L4.5,14 Q0,16 -4.5,14 Z" style="fill:#555"/></g>
<g transform="translate(419.5,795)"><rect x="-1.4" y="0" width="2.8" height="10.5" class="f" style="stroke-width:0.9"/><path class="f" d="M-4.5,11 Q0,9 4.5,11 L4.5,14 Q0,16 -4.5,14 Z" style="fill:#555"/></g>
<g transform="translate(548.8,832)"><rect x="-1.4" y="0" width="2.8" height="10.5" class="f" style="stroke-width:0.9"/><path class="f" d="M-4.5,11 Q0,9 4.5,11 L4.5,14 Q0,16 -4.5,14 Z" style="fill:#555"/></g>
<g transform="translate(615.5,774)"><rect x="-1.4" y="0" width="2.8" height="10.5" class="f" style="stroke-width:0.9"/><path class="f" d="M-4.5,11 Q0,9 4.5,11 L4.5,14 Q0,16 -4.5,14 Z" style="fill:#555"/></g>
</g>
<g id="standR">
<!-- right leg -->
<path class="f" d="M607.6,681 L618.4,672 L623.8,676.2 L623.8,762.3 L618.4,764 L607.6,760 Z"/>
<path class="s" d="M618.4,674 L618.4,764 M607.6,745 L618.4,748.3"/>
<!-- bottom rail -->
<path class="f" d="M557,795 L618.4,748.3 L618.4,757 L557,803.2 Z"/>
<path class="s" d="M559.2,798.9 L618.4,752.5"/>
<!-- top rail -->
<path class="f" d="M527.9,721.4 Q526.5,719 528.5,717.5 L538.7,714.9 L574.2,678.3 L586.1,675.1 L614.1,668.6 Q619,668.5 622.7,671.8 Q624.5,674 623.8,676.2 L618.4,679 L608.7,681.5 L605.5,677.2 L589.3,689.1 L583.9,690.2 L565.6,706.3 L564.5,711.7 L550.5,724.6 L557,733.2 L547.3,736.5 L538.3,733.2 Z"/>
<path class="s" d="M538.3,733.2 Q536.5,727 531,723 M539,716 L575,680 M550.5,724.6 L545,730 M586,676 L614,670 L618.4,674 M608.7,681.5 L618.4,679"/>
<path class="f" d="M526.8,718.5 L531,715 L537.6,716.2 L535,722.5 L528.5,721.8 Z"/>
<ellipse class="s" cx="531.8" cy="718.5" rx="1.8" ry="1.1"/>
<path class="f" d="M575.3,677 L579,673 L586.1,674.5 L584,680.5 L577,680 Z"/>
<ellipse class="s" cx="580.5" cy="676.8" rx="1.8" ry="1.1"/>
<circle class="k" cx="556.5" cy="713" r="0.8"/><circle class="k" cx="591" cy="685" r="0.8"/>
<!-- front leg -->
<path class="f" d="M538.3,736 Q538.5,733.5 541,733.2 L550,733.5 L554,733 Q557,733.5 557,736 L557,817 Q557,819.4 554,820 L547.3,822.6 L540.5,821 Q538.3,820.5 538.3,818.5 Z"/>
<path class="s" d="M547.3,736.5 L547.3,822.6 M549.5,736.2 L549.5,822"/>
<path class="s" d="M538.6,734.5 L547.3,736.5 L556.5,734"/>
</g>
<!-- DOOR -->
<g id="glass">
<path class="f" d="M225.8,605 Q226,604 227.5,604.4 L320.5,630.6 Q321.5,631 321.5,632.5 L321.5,744.7 L225.8,717.3 Z" style="stroke-width:1"/>
</g>
<g id="door">
<path class="f" style="fill-rule:evenodd" d="M168.5,607.8 L174.5,601.8 L185.6,604.4 L188.2,608.7 L233.5,620.6 Q238,618.5 242,618.9 Q248,620 253.1,625.8 L308.6,640.3 Q313.5,641 315.5,643 Q317.4,645 317.2,648 L317.2,811 Q317,814.5 313,817 L306.1,819 L297.5,818.1 L295,816.4 L180.5,783.1 L168.5,780.6 Z M191.6,638.6 L282.2,663.3 L282.2,772 L191.6,744.7 Z"/>
<path d="M191.6,638.6 L282.2,663.3 L282.2,772" style="fill:none;stroke:#222;stroke-width:1.6"/>
<path class="s" d="M168.5,608.5 L296,643.5 L310.3,648 Q314.5,647.5 317,645.5 M182.2,612.1 L293.3,644.5 M182.2,613.8 L293.3,646.3 M175,603 L179,606 L182.2,612.1"/>
<path class="t" d="M188.2,608.7 L182.2,612.1 M253.1,625.8 L245,629 L296,643.5"/>
<path class="s" d="M176.2,610.8 L176.2,781.8 M180.5,612 L180.5,783.1"/>
<path d="M168.7,608 L168.7,780.5" style="stroke:#222;stroke-width:1.6;fill:none"/>
<rect x="176.4" y="611" width="2.6" height="171" style="fill:#333;stroke:none"/>
<path class="s" d="M294.1,644 L294.1,817.3 M297.5,645 L297.5,818.1 M306.1,648 L306.1,819"/>
<rect x="294.3" y="645" width="2.4" height="172" style="fill:#333;stroke:none"/>
<!-- window bevel -->
<path class="s" d="M194.4,641.5 L282.2,665.8 M194.4,641.5 L194.4,746.4 L282.2,769.4 M196.7,643 L196.7,747 M194.2,748 L282.2,771"/>
<path d="M195,748.6 L282,773" style="stroke:#555;stroke-width:1.6;fill:none"/>
<path class="s" d="M194.6,643 L201,640.5 M194.4,649 L198,644 M196.7,670 L199,672 L199,686 L196.7,688 M196.7,700 L199,702 L199,716 L196.7,718"/>
<!-- bracket -->
<path class="f" d="M200.2,674 Q200.5,672.4 202.5,672.8 L214,675.8 L218.5,673.8 Q221,673.5 220.5,676.5 L219,690 L216,694 L201.5,690.5 Q200,690 200.2,688.5 Z"/>
<path class="s" d="M214,675.8 L213.5,692.5"/>
<circle class="s" cx="203" cy="676.8" r="0.9"/><circle class="s" cx="210.5" cy="689.5" r="0.9"/>
</g>
<!-- HANDLE -->
<g id="handle">
<path class="f" d="M120.5,647.5 L133.8,634.5 Q135.5,632.5 137.1,633.8 L137.1,648.9 L135,650 L121.7,658.6 Z"/>
<path class="s" d="M122,650 L134.5,638 M134.5,638 L134.5,649.5"/>
<circle class="k" cx="125" cy="651.3" r="1.2"/>
<path class="f" d="M114,647 Q117.5,644.5 121.2,647 L121.2,698 Q117.5,700 114,698 Z"/>
<ellipse class="s" cx="117.6" cy="646.8" rx="3.6" ry="1.4"/>
<rect x="114" y="668.2" width="7.2" height="29" style="fill:#444;stroke:#222;stroke-width:0.8"/>
<path d="M114,670 L121.2,671.5 M114,672.5 L121.2,674 M114,675 L121.2,676.5 M114,677.5 L121.2,679 M114,680 L121.2,681.5 M114,682.5 L121.2,684 M114,685 L121.2,686.5 M114,687.5 L121.2,689 M114,690 L121.2,691.5 M114,692.5 L121.2,694 M114,695 L121.2,696.5" style="stroke:#888;stroke-width:0.6;fill:none"/>
<path class="f" d="M114.4,697 Q117.5,699.5 121,697 L120.5,699.5 Q117.5,701 114.8,699.5 Z"/>
</g>
<g id="hinge">
<path style="fill:#fff;stroke:#262626;stroke-width:1.2" d="M147.5,643 L150,640 L153,638.3 L156.5,639 L158.3,642 L157,650 L153.5,653 L152.5,657.5 L149,658.6 L147.3,656 Z"/>
<path class="s" d="M149,644 L152.5,641.5 L155.5,642.5 L155,648 L151,650.5 L149.5,655"/>
<path d="M149.5,645 L154,642.5 L155,646 L151,649.5 L150,653 Z" style="fill:#555;stroke:#222;stroke-width:0.6"/>
<path style="fill:#fff;stroke:#262626;stroke-width:1.2" d="M153.5,652 L156,649.5 L162,648 L163.6,650 L163,661 L161,664.5 L155.5,666.3 L153.8,664.5 Z"/>
<path class="s" d="M156,652.5 L161.5,651 L161,661 L156,663 Z"/>
<path d="M156,653 L161.5,651.5 L161,657 L156,659 Z" style="fill:#555;stroke:#222;stroke-width:0.6"/>
</g>

<!-- LEADERS -->
<g class="ld">
<line x1="83.2" y1="622.4" x2="117.4" y2="645.6"/>
<line x1="109.8" y1="527.5" x2="147.3" y2="644.1"/>
<line x1="172" y1="525.7" x2="248" y2="610.4"/>
<line x1="393.6" y1="511.5" x2="418.7" y2="546.1"/>
<line x1="429.7" y1="460.5" x2="446" y2="469"/>
<line x1="479.7" y1="346.9" x2="584.5" y2="372.4"/>
<line x1="617.1" y1="539.6" x2="549.1" y2="515.5"/>
<line x1="411.1" y1="333.7" x2="379" y2="393.5"/>
<line x1="772" y1="663.2" x2="730.8" y2="544.8"/>
<line x1="259.5" y1="463.4" x2="344" y2="447.4"/>
<line x1="706.2" y1="633.6" x2="694.7" y2="569.5"/>
<line x1="615.7" y1="495.7" x2="525" y2="440.4"/>
<line x1="634.1" y1="444.7" x2="610" y2="419.2"/>
</g>
<!-- CALLOUTS -->
<g>
<circle class="co" cx="68.9" cy="611" r="17.9"/><text class="n" x="68.9" y="619.8" textLength="12.3" lengthAdjust="spacingAndGlyphs">1</text>
<circle class="co" cx="104.5" cy="508.3" r="19.2"/><text class="n" x="104.5" y="517.1" textLength="12.3" lengthAdjust="spacingAndGlyphs">2</text>
<circle class="co" cx="158.5" cy="510.6" r="19"/><text class="n" x="158.5" y="519.4" textLength="12.3" lengthAdjust="spacingAndGlyphs">3</text>
<circle class="co" cx="381.3" cy="495.5" r="19.4"/><text class="n" x="381.3" y="504.3" textLength="12.3" lengthAdjust="spacingAndGlyphs">4</text>
<circle class="co" cx="411.1" cy="451.7" r="19"/><text class="n" x="411.1" y="460.5" textLength="12.3" lengthAdjust="spacingAndGlyphs">5</text>
<circle class="co" cx="460.6" cy="343.8" r="19"/><text class="n" x="460.6" y="352.6" textLength="12.3" lengthAdjust="spacingAndGlyphs">6</text>
<circle class="co" cx="633.4" cy="549.6" r="19"/><text class="n" x="633.4" y="558.4" textLength="12.3" lengthAdjust="spacingAndGlyphs">7</text>
<circle class="co" cx="420.7" cy="316.4" r="19.4"/><text class="n" x="420.7" y="325.2" textLength="12.3" lengthAdjust="spacingAndGlyphs">8</text>
<circle class="co" cx="780.3" cy="679.8" r="19.4"/><text class="n" x="780.3" y="688.6" textLength="12.3" lengthAdjust="spacingAndGlyphs">8</text>
<circle class="co" cx="240.6" cy="467.7" r="19"/><text class="n" x="240.6" y="476.5" textLength="12.3" lengthAdjust="spacingAndGlyphs">9</text>
<circle class="co" cx="712" cy="654" r="20.5"/><text class="n" x="712" y="662.8" textLength="24.6" lengthAdjust="spacingAndGlyphs">10</text>
<circle class="co" cx="632.7" cy="507" r="19"/><text class="n" x="632.7" y="515.8" textLength="24.6" lengthAdjust="spacingAndGlyphs">11</text>
<circle class="co" cx="650.4" cy="459.5" r="20.5"/><text class="n" x="653.5" y="468.3" textLength="24.6" lengthAdjust="spacingAndGlyphs">12</text>
</g>
</svg>
</body></html>
